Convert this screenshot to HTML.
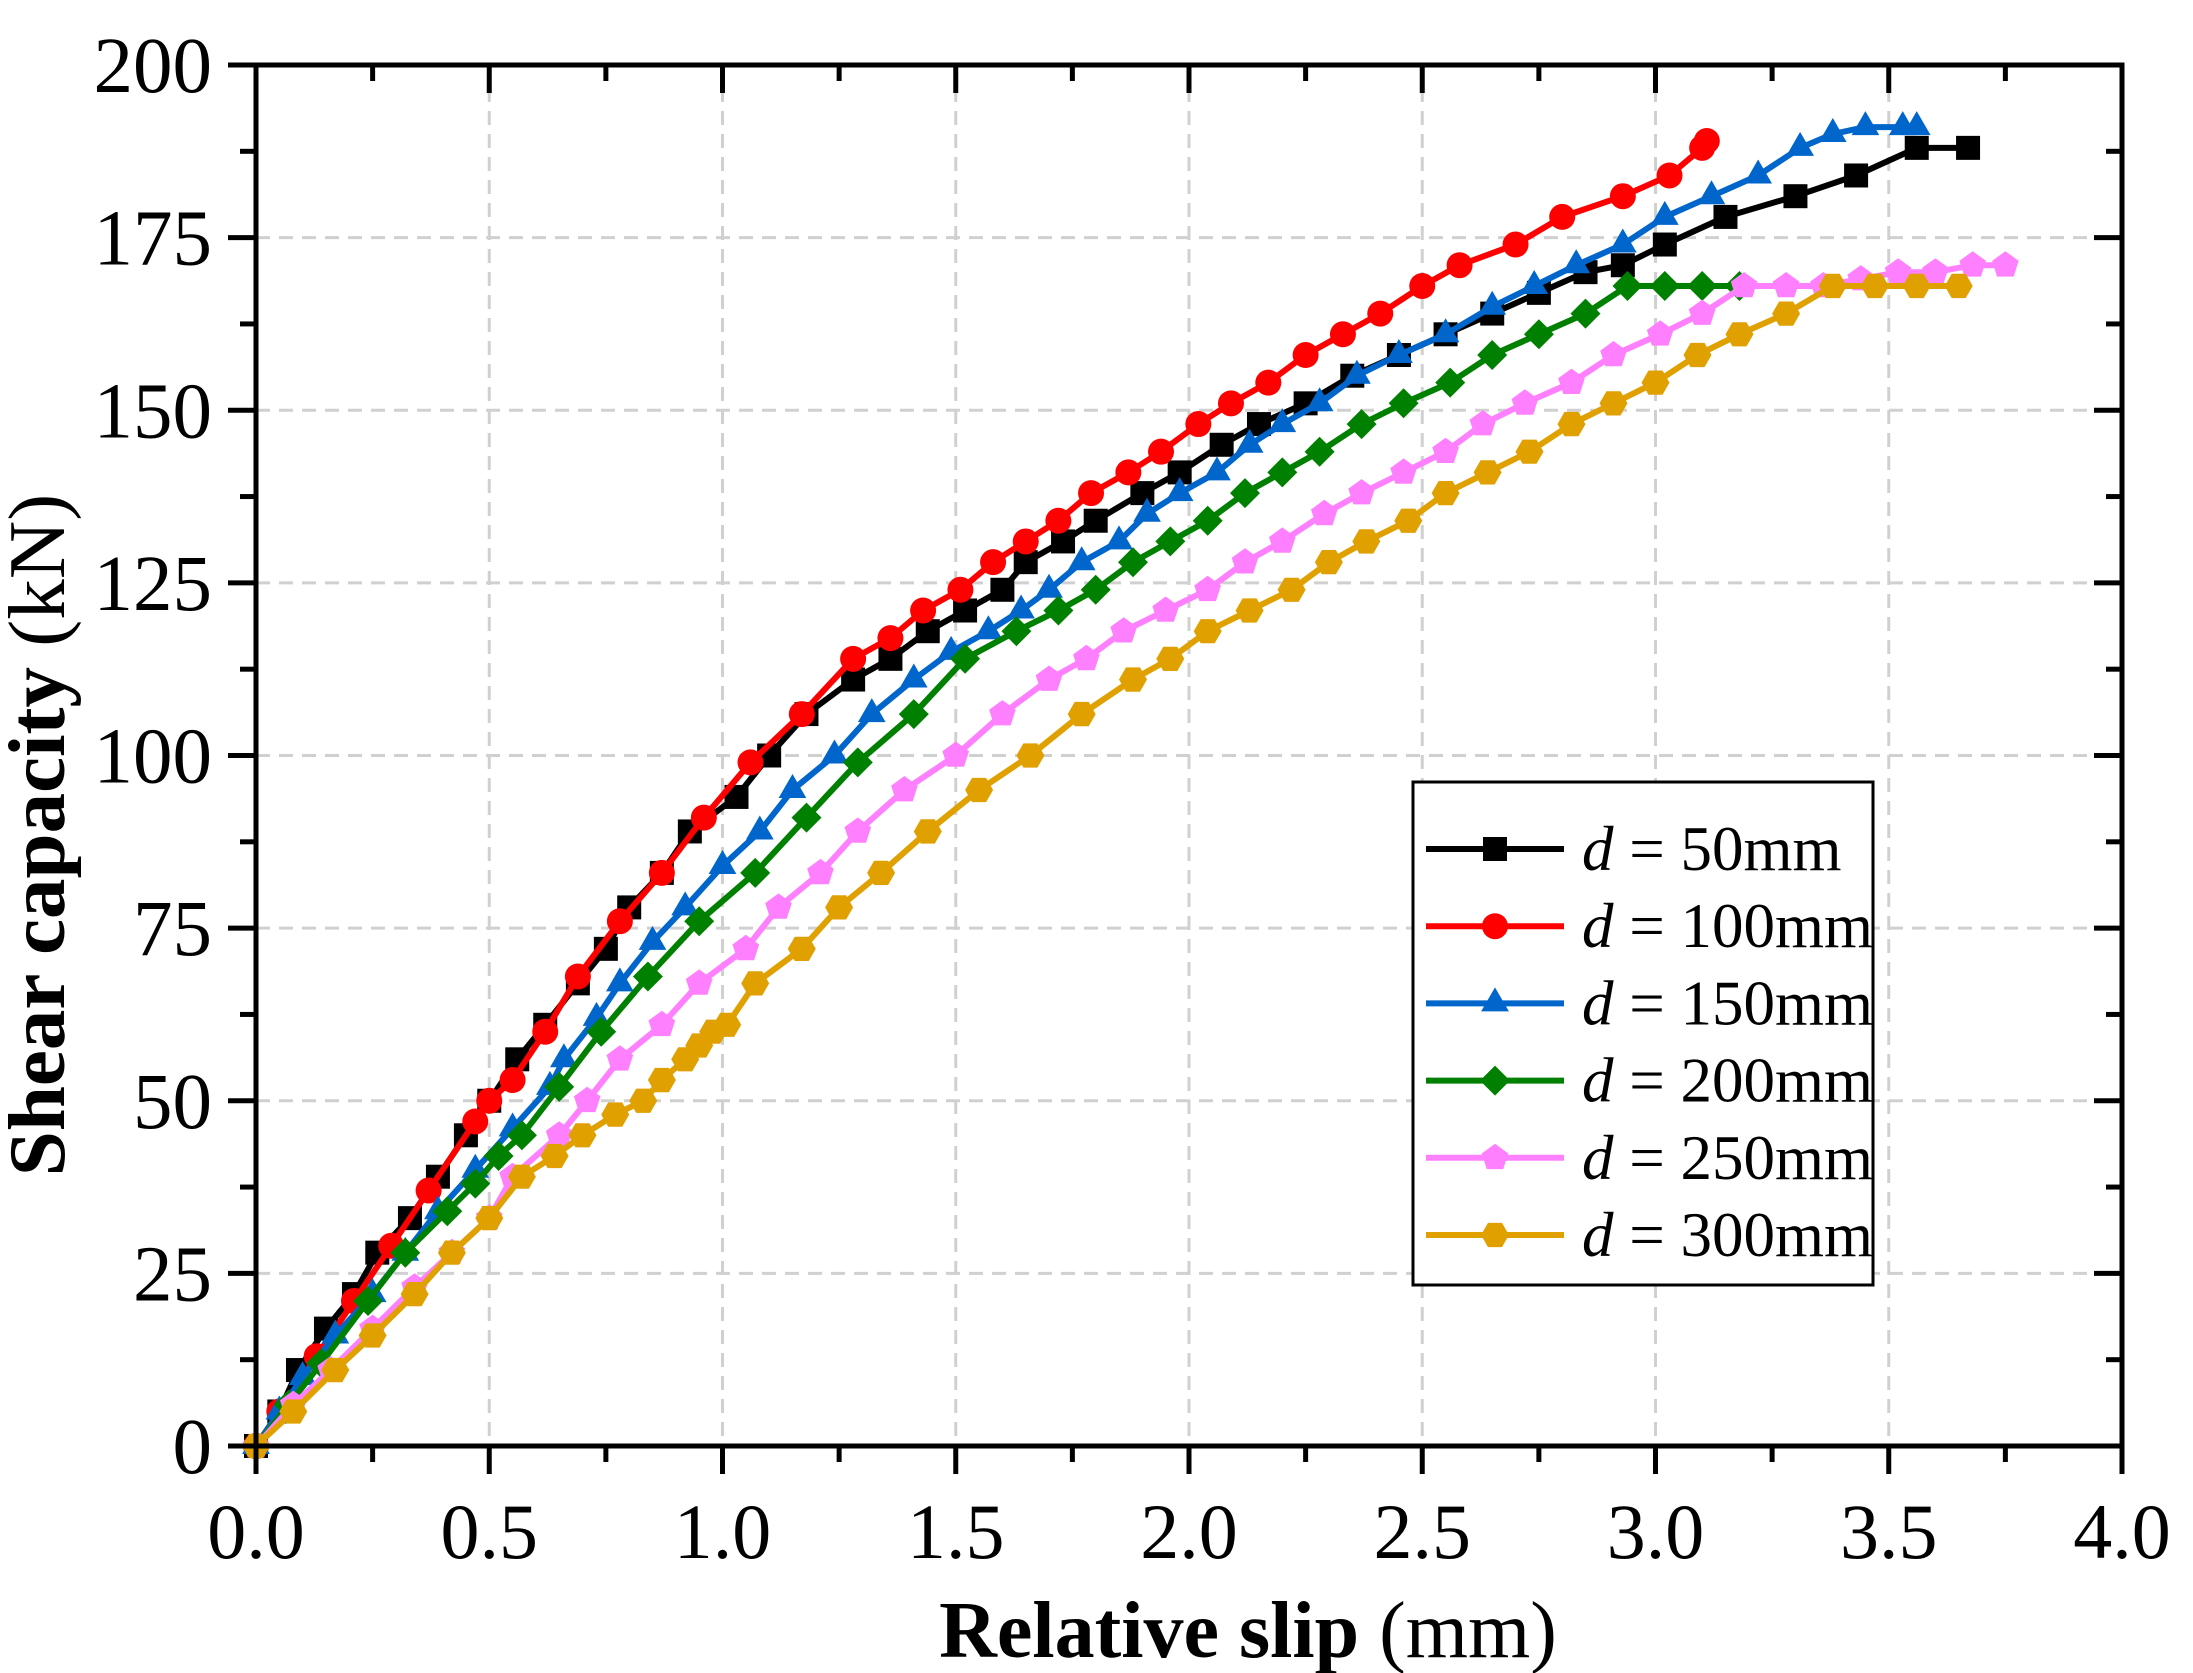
<!DOCTYPE html>
<html><head><meta charset="utf-8">
<style>
html,body{margin:0;padding:0;background:#fff;}
svg{display:block;font-family:"Liberation Serif",serif;}
</style></head>
<body>
<svg id="chart" width="2193" height="1673" viewBox="0 0 2193 1673" xmlns="http://www.w3.org/2000/svg">
<g id="grid"></g>
<g id="series"></g>
<g id="axes"></g>
<text x="1248" y="1657" text-anchor="middle" font-size="80"><tspan font-weight="bold">Relative slip</tspan> (mm)</text>
<text transform="translate(64,835) rotate(-90)" text-anchor="middle" font-size="81"><tspan font-weight="bold">Shear capacity</tspan> (kN)</text>
<g id="legend"></g>
</svg>
<script>
const xTicks = [0.0,0.5,1.0,1.5,2.0,2.5,3.0,3.5,4.0];
const xTickLabels = ["0.0","0.5","1.0","1.5","2.0","2.5","3.0","3.5","4.0"];
const yTicks = [0,25,50,75,100,125,150,175,200];
const yTickLabels = ["0","25","50","75","100","125","150","175","200"];
const seriesNames = ["50mm","100mm","150mm","200mm","250mm","300mm"];
const seriesColors = ["#000000","#ff0000","#0066cc","#008000","#ff80ff","#e0a000"];
const seriesMarkers = ["square","circle","triangle","diamond","pentagon","hexagon"];

const x50 = [0,0.05,0.09,0.15,0.21,0.26,0.33,0.39,0.45,0.5,0.56,0.62,0.69,0.75,0.8,0.87,0.93,1.03,1.1,1.18,1.28,1.36,1.44,1.52,1.6,1.65,1.73,1.8,1.9,1.98,2.07,2.15,2.25,2.35,2.45,2.55,2.65,2.75,2.85,2.93,3.02,3.15,3.3,3.43,3.56,3.67];
const y50 = [0,5,11,17,22,28,33,39,45,50,56,61,67,72,78,83,89,94,100,106,111,114,118,121,124,128,131,134,138,141,145,148,151,155,158,161,164,167,170,171,174,178,181,184,188,188];
const x100 = [0,0.05,0.13,0.21,0.29,0.37,0.47,0.5,0.55,0.62,0.69,0.78,0.87,0.96,1.06,1.17,1.28,1.36,1.43,1.51,1.58,1.65,1.72,1.79,1.87,1.94,2.02,2.09,2.17,2.25,2.33,2.41,2.5,2.58,2.7,2.8,2.93,3.03,3.1,3.11];
const y100 = [0,5,13,21,29,37,47,50,53,60,68,76,83,91,99,106,114,117,121,124,128,131,134,138,141,144,148,151,154,158,161,164,168,171,174,178,181,184,188,189];
const x150 = [0,0.05,0.1,0.17,0.25,0.32,0.39,0.47,0.55,0.63,0.66,0.73,0.78,0.85,0.92,1.0,1.08,1.15,1.24,1.32,1.41,1.49,1.57,1.64,1.7,1.77,1.85,1.91,1.98,2.06,2.13,2.2,2.28,2.36,2.45,2.55,2.65,2.74,2.83,2.93,3.02,3.12,3.22,3.31,3.38,3.45,3.53,3.56];
const y150 = [0,5,10,16,22,28,34,40,46,52,56,62,67,73,78,84,89,95,100,106,111,115,118,121,124,128,131,135,138,141,145,148,151,155,158,161,165,168,171,174,178,181,184,188,190,191,191,191];
const x200 = [0,0.07,0.14,0.24,0.32,0.41,0.47,0.52,0.57,0.65,0.74,0.84,0.95,1.07,1.18,1.29,1.41,1.52,1.63,1.72,1.8,1.88,1.96,2.04,2.12,2.2,2.28,2.37,2.46,2.56,2.65,2.75,2.85,2.94,3.02,3.1,3.18];
const y200 = [0,6,12,21,28,34,38,42,45,52,60,68,76,83,91,99,106,114,118,121,124,128,131,134,138,141,144,148,151,154,158,161,164,168,168,168,168];
const x250 = [0,0.08,0.16,0.25,0.34,0.42,0.5,0.55,0.65,0.71,0.78,0.87,0.95,1.05,1.12,1.21,1.29,1.39,1.5,1.6,1.7,1.78,1.86,1.95,2.04,2.12,2.2,2.29,2.37,2.46,2.55,2.63,2.72,2.82,2.91,3.01,3.1,3.19,3.28,3.36,3.44,3.52,3.6,3.68,3.75];
const y250 = [0,6,11,17,23,28,33,39,45,50,56,61,67,72,78,83,89,95,100,106,111,114,118,121,124,128,131,135,138,141,144,148,151,154,158,161,164,168,168,168,169,170,170,171,171];
const x300 = [0,0.08,0.17,0.25,0.34,0.42,0.5,0.57,0.64,0.7,0.77,0.83,0.87,0.92,0.95,0.98,1.01,1.07,1.17,1.25,1.34,1.44,1.55,1.66,1.77,1.88,1.96,2.04,2.13,2.22,2.3,2.38,2.47,2.55,2.64,2.73,2.82,2.91,3.0,3.09,3.18,3.28,3.38,3.47,3.56,3.65];
const y300 = [0,5,11,16,22,28,33,39,42,45,48,50,53,56,58,60,61,67,72,78,83,89,95,100,106,111,114,118,121,124,128,131,134,138,141,144,148,151,154,158,161,164,168,168,168,168];

const seriesX = [x50,x100,x150,x200,x250,x300];
const seriesY = [y50,y100,y150,y200,y250,y300];

const L=256,R=2122,T=65,B=1446;
const xMin=0,xMax=4,yMin=0,yMax=200;
function sx(v){return L+(v-xMin)/(xMax-xMin)*(R-L);}
function sy(v){return B-(v-yMin)/(yMax-yMin)*(B-T);}
const NS="http://www.w3.org/2000/svg";
function mk(tag,attrs,parent){const e=document.createElementNS(NS,tag);for(const k in attrs)e.setAttribute(k,attrs[k]);parent.appendChild(e);return e;}

const grid=document.getElementById('grid');
const axes=document.getElementById('axes');
xTicks.forEach((v,i)=>{
  const x=sx(v);
  if(i>0&&i<xTicks.length-1){
    const g=mk('line',{x1:x,x2:x,y1:T,y2:B,stroke:'#d0d0d0','stroke-width':3,'stroke-dasharray':'14 9'},grid);
    
    
  }
  const t=mk('line',{x1:x,x2:x,y1:B,y2:B+28,stroke:'#000','stroke-width':5},axes);
  
  
  const t2=mk('line',{x1:x,x2:x,y1:T,y2:T+28,stroke:'#000','stroke-width':5},axes);
  
  
  const lb=mk('text',{x:x,y:1558,'text-anchor':'middle','font-size':78},axes);
  lb.textContent=xTickLabels[i];
  
  
  if(i<xTicks.length-1){
    const m=sx(v+0.25);
    const a=mk('line',{x1:m,x2:m,y1:B,y2:B+16,stroke:'#000','stroke-width':5},axes);
    
    
    const b=mk('line',{x1:m,x2:m,y1:T,y2:T+16,stroke:'#000','stroke-width':5},axes);
    
    
  }
});
yTicks.forEach((v,i)=>{
  const y=sy(v);
  if(i>0&&i<yTicks.length-1){
    const g=mk('line',{x1:L,x2:R,y1:y,y2:y,stroke:'#d0d0d0','stroke-width':3,'stroke-dasharray':'14 9'},grid);
    
    
  }
  const t=mk('line',{x1:L-28,x2:L,y1:y,y2:y,stroke:'#000','stroke-width':5},axes);
  
  
  const t2=mk('line',{x1:R-28,x2:R,y1:y,y2:y,stroke:'#000','stroke-width':5},axes);
  
  
  const lb=mk('text',{x:212,y:y+27,'text-anchor':'end','font-size':79},axes);
  lb.textContent=yTickLabels[i];
  
  
  if(i<yTicks.length-1){
    const m=sy(v+12.5);
    const a=mk('line',{x1:L-16,x2:L,y1:m,y2:m,stroke:'#000','stroke-width':5},axes);
    
    
    const b=mk('line',{x1:R-16,x2:R,y1:m,y2:m,stroke:'#000','stroke-width':5},axes);
    
    
  }
});
const frame=mk('rect',{x:L,y:T,width:R-L,height:B-T,fill:'none',stroke:'#000','stroke-width':5},axes);



function marker(type,x,y,c,parent){
  let e;const s=12;
  if(type==='square') e=mk('rect',{x:x-s,y:y-s,width:2*s,height:2*s,fill:c},parent);
  else if(type==='circle') e=mk('circle',{cx:x,cy:y,r:13,fill:c},parent);
  else {
    let n,r,rot;
    if(type==='triangle'){n=3;r=16;rot=-90;}
    else if(type==='diamond'){n=4;r=15;rot=-90;}
    else if(type==='pentagon'){n=5;r=14;rot=-90;}
    else {n=6;r=14;rot=0;}
    const pts=[];
    for(let k=0;k<n;k++){const a=(rot+360*k/n)*Math.PI/180;pts.push((x+r*Math.cos(a)).toFixed(1)+','+(y+r*Math.sin(a)).toFixed(1));}
    e=mk('polygon',{points:pts.join(' '),fill:c},parent);
  }
  return e;
}

const sg=document.getElementById('series');
seriesX.forEach((xs,si)=>{
  const ys=seriesY[si];const c=seriesColors[si];
  const g=mk('g',{},sg);
  
  
  const d=xs.map((v,k)=>(k?'L':'M')+sx(v).toFixed(1)+','+sy(ys[k]).toFixed(1)).join(' ');
  const p=mk('path',{d:d,fill:'none',stroke:c,'stroke-width':6,'stroke-linejoin':'round'},g);
  
  
  xs.forEach((v,k)=>{
    const m=marker(seriesMarkers[si],sx(v),sy(ys[k]),c,g);
    
    
  });
});

const lg=document.getElementById('legend');
const box=mk('rect',{x:1413,y:782,width:460,height:503,fill:'#fff',stroke:'#000','stroke-width':3},lg);


seriesNames.forEach((nm,i)=>{
  const y=849+i*77.2;
  const g=mk('g',{},lg);
  
  
  mk('line',{x1:1426,x2:1564,y1:y,y2:y,stroke:seriesColors[i],'stroke-width':6},g);
  marker(seriesMarkers[i],1495,y,seriesColors[i],g);
  const t=mk('text',{x:1582,y:y+21,'font-size':63},g);
  t.innerHTML='<tspan font-style="italic">d</tspan> = '+nm;
});
</script>
</body></html>
